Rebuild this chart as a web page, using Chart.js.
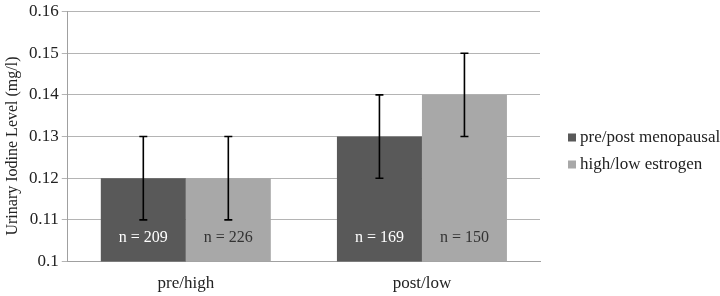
<!DOCTYPE html>
<html>
<head>
<meta charset="utf-8">
<script src="https://cdn.jsdelivr.net/npm/chart.js@4"></script>
<style>
  html, body { margin: 0; padding: 0; background: #fff; }
  #wrap { width: 720px; height: 296px; }
</style>
</head>
<body>
<div id="wrap"><canvas id="iodine"></canvas></div>
<script>
const categories = ['pre/high', 'post/low'];
const menopausal = [0.12, 0.13];
const estrogen = [0.12, 0.14];
const menopausalErr = [0.01, 0.01];
const estrogenErr = [0.01, 0.01];
const menopausalN = [209, 169];
const estrogenN = [226, 150];
const seriesNames = ['pre/post menopausal', 'high/low estrogen'];
const yTitle = 'Urinary Iodine Level (mg/l)';

const serif = '"Liberation Serif", "DejaVu Serif", serif';

// error bars, n labels, y title and the legend on the right
const extras = {
  id: 'extras',
  afterDatasetsDraw(chart) {
    const ctx = chart.ctx;
    const y = chart.scales.y;
    const errs = [menopausalErr, estrogenErr];
    const ns = [menopausalN, estrogenN];
    const txtColors = ['#ffffff', '#333333'];
    chart.data.datasets.forEach((ds, di) => {
      const meta = chart.getDatasetMeta(di);
      meta.data.forEach((bar, i) => {
        const v = ds.data[i];
        const top = y.getPixelForValue(v + errs[di][i]);
        const bot = y.getPixelForValue(v - errs[di][i]);
        ctx.save();
        ctx.strokeStyle = '#000';
        ctx.lineWidth = 1.6;
        ctx.beginPath();
        ctx.moveTo(bar.x, top); ctx.lineTo(bar.x, bot);
        ctx.moveTo(bar.x - 4, top); ctx.lineTo(bar.x + 4, top);
        ctx.moveTo(bar.x - 4, bot); ctx.lineTo(bar.x + 4, bot);
        ctx.stroke();
        ctx.fillStyle = txtColors[di];
        ctx.font = '16px ' + serif;
        ctx.textAlign = 'center';
        ctx.textBaseline = 'middle';
        ctx.fillText('n = ' + ns[di][i], bar.x, y.getPixelForValue(0.1) - 24);
        ctx.restore();
      });
    });

    // y axis title, centred on the canvas like the original
    ctx.save();
    ctx.translate(13, chart.height / 2 - 2);
    ctx.rotate(-Math.PI / 2);
    ctx.font = '16px ' + serif;
    ctx.fillStyle = '#222';
    ctx.textAlign = 'center';
    ctx.textBaseline = 'middle';
    ctx.fillText(yTitle, 0, 0);
    ctx.restore();

    // legend
    const area = chart.chartArea;
    const midY = chart.height / 2 + 3;
    ctx.save();
    ctx.font = '17px ' + serif;
    ctx.textAlign = 'left';
    ctx.textBaseline = 'middle';
    chart.data.datasets.forEach((ds, di) => {
      const ly = midY + (di - 0.5) * 27;
      ctx.fillStyle = ds.backgroundColor;
      ctx.fillRect(area.right + 28, ly - 4, 8, 8);
      ctx.fillStyle = '#222';
      ctx.fillText(seriesNames[di], area.right + 40, ly);
    });
    ctx.restore();
  }
};

new Chart(document.getElementById('iodine'), {
  type: 'bar',
  data: {
    labels: categories,
    datasets: [
      {
        label: seriesNames[0],
        data: menopausal,
        backgroundColor: '#595959',
        borderWidth: 0
      },
      {
        label: seriesNames[1],
        data: estrogen,
        backgroundColor: '#a8a8a8',
        borderWidth: 0
      }
    ]
  },
  options: {
    responsive: true,
    maintainAspectRatio: false,
    animation: false,
    categoryPercentage: 0.72,
    barPercentage: 1.0,
    layout: { padding: { top: 0, left: 26, right: 180, bottom: -10 } },
    scales: {
      x: {
        grid: { display: false, drawTicks: false },
        border: { color: '#a0a0a0' },
        ticks: { color: '#222', font: { family: serif, size: 17 }, padding: 12 }
      },
      y: {
        min: 0.1,
        max: 0.16,
        ticks: {
          stepSize: 0.01,
          color: '#222',
          font: { family: serif, size: 17, lineHeight: 1 },
          padding: 3,
          callback: v => String(Math.round(v * 100) / 100)
        },
        grid: { color: '#b4b4b4', tickLength: 6 },
        border: { color: '#a0a0a0' },
        title: { display: false }
      }
    },
    plugins: {
      legend: { display: false },
      tooltip: { enabled: false }
    }
  },
  plugins: [extras]
});
</script>
</body>
</html>
